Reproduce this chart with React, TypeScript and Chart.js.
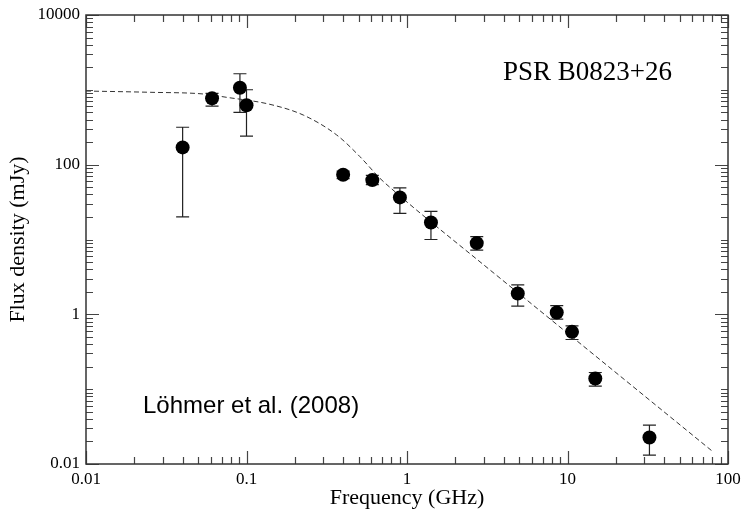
import React, { useEffect, useRef } from "react";
import { Chart, registerables } from "chart.js";

Chart.register(...registerables);

// Measured spectrum (GHz, mJy) with error bar limits
const FREQ = [0.040, 0.061, 0.091, 0.100, 0.40, 0.608, 0.903, 1.41, 2.72, 4.90, 8.57, 10.67, 14.9, 32.4];
const FLUX = [170, 770, 1067, 621, 73.3, 62.2, 36.5, 16.9, 8.95, 1.90, 1.06, 0.583, 0.139, 0.0226];
const FLUX_HI = [316, 898, 1641, 1002, 82, 72, 49.1, 23.8, 10.9, 2.48, 1.31, 0.70, 0.167, 0.033];
const FLUX_LO = [20.1, 607, 500, 241, 65, 54, 22.3, 10.0, 7.2, 1.29, 0.863, 0.461, 0.110, 0.0131];

// Dashed model curve
const FIT_FREQ = [0.01, 0.0251, 0.0538, 0.0753, 0.140, 0.226, 0.365, 0.509, 0.679, 0.842, 1.148, 3.0, 10.67, 80.9];
const FIT_FLUX = [964, 927, 880, 794, 640, 460, 249, 128, 65.6, 43.5, 24.7, 4.6, 0.50, 0.0145];

const X_TICKS = [0.01, 0.1, 1, 10, 100];
const Y_TICKS = [0.01, 1, 100, 10000];

const TITLE = "PSR B0823+26";
const SOURCE = "Löhmer et al. (2008)";
const X_TITLE = "Frequency (GHz)";
const Y_TITLE = "Flux density (mJy)";

const SERIF = "'Liberation Serif', 'Times New Roman', serif";
const SANS = "'Liberation Sans', Arial, sans-serif";

function isMajor(v: number, list: number[]) {
  return list.some((t) => Math.abs(Math.log10(t) - Math.log10(v)) < 1e-6);
}

const decorPlugin = {
  id: "decor",
  beforeDatasetsDraw(chart: any) {
    const { ctx, scales } = chart;
    const xs = scales.x;
    const ys = scales.y;
    const CAP = 6.5;
    ctx.save();
    ctx.strokeStyle = "#222";
    ctx.lineWidth = 1.2;
    FREQ.forEach((f, i) => {
      const px = xs.getPixelForValue(f);
      const hi = ys.getPixelForValue(FLUX_HI[i]);
      const lo = ys.getPixelForValue(FLUX_LO[i]);
      ctx.beginPath();
      ctx.moveTo(px, hi);
      ctx.lineTo(px, lo);
      ctx.moveTo(px - CAP, hi);
      ctx.lineTo(px + CAP, hi);
      ctx.moveTo(px - CAP, lo);
      ctx.lineTo(px + CAP, lo);
      ctx.stroke();
    });
    ctx.restore();
  },
  afterDraw(chart: any) {
    const { ctx, chartArea: a, scales } = chart;
    const xs = scales.x;
    const ys = scales.y;
    const MAJ = 13;
    const MIN = 7;
    ctx.save();
    // ticks
    ctx.strokeStyle = "#444";
    ctx.lineWidth = 1.2;
    ctx.beginPath();
    const xmin = Math.round(Math.log10(xs.min));
    const xmax = Math.round(Math.log10(xs.max));
    for (let d = xmin; d <= xmax; d++) {
      for (let m = 1; m <= 9; m++) {
        const v = m * Math.pow(10, d);
        if (v > xs.max * 1.0001) break;
        const px = Math.round(xs.getPixelForValue(v)) + 0.5;
        const len = m === 1 && isMajor(v, X_TICKS) ? MAJ : MIN;
        ctx.moveTo(px, a.bottom);
        ctx.lineTo(px, a.bottom - len);
        ctx.moveTo(px, a.top);
        ctx.lineTo(px, a.top + len);
      }
    }
    const ymin = Math.round(Math.log10(ys.min));
    const ymax = Math.round(Math.log10(ys.max));
    for (let d = ymin; d <= ymax; d++) {
      for (let m = 1; m <= 9; m++) {
        const v = m * Math.pow(10, d);
        if (v > ys.max * 1.0001) break;
        const py = Math.round(ys.getPixelForValue(v)) + 0.5;
        const len = m === 1 && isMajor(v, Y_TICKS) ? MAJ : MIN;
        ctx.moveTo(a.left, py);
        ctx.lineTo(a.left + len, py);
        ctx.moveTo(a.right, py);
        ctx.lineTo(a.right - len, py);
      }
    }
    ctx.stroke();
    // frame
    ctx.strokeStyle = "#333";
    ctx.lineWidth = 1.5;
    ctx.strokeRect(a.left, a.top, a.right - a.left, a.bottom - a.top);
    // annotations
    ctx.fillStyle = "#000";
    ctx.textBaseline = "alphabetic";
    ctx.textAlign = "left";
    ctx.font = `27px ${SERIF}`;
    ctx.fillText(TITLE, a.left + 417, a.top + 65);
    ctx.font = `24px ${SANS}`;
    ctx.fillText(SOURCE, a.left + 57, a.top + 398);
    ctx.restore();
  },
};

export default function App() {
  const ref = useRef<HTMLCanvasElement | null>(null);

  useEffect(() => {
    const canvas = ref.current;
    if (!canvas) return;
    const chart = new Chart(canvas, {
      type: "scatter",
      data: {
        datasets: [
          {
            type: "scatter",
            label: "data",
            data: FREQ.map((x, i) => ({ x, y: FLUX[i] })),
            pointRadius: 7,
            pointHoverRadius: 7,
            pointBackgroundColor: "#000",
            pointBorderColor: "#000",
            pointBorderWidth: 0,
          },
          {
            type: "line",
            label: "fit",
            data: FIT_FREQ.map((x, i) => ({ x, y: FIT_FLUX[i] })),
            showLine: true,
            pointRadius: 0,
            borderColor: "#333",
            borderWidth: 1,
            borderDash: [5, 3],
            cubicInterpolationMode: "monotone",
            fill: false,
          } as any,
        ],
      },
      options: {
        responsive: false,
        animation: false,
        devicePixelRatio: 1,
        layout: { padding: { left: 0, right: 14, top: 15, bottom: 0 } },
        plugins: {
          legend: { display: false },
          tooltip: { enabled: false },
        },
        scales: {
          x: {
            type: "logarithmic",
            min: 0.01,
            max: 100,
            grid: { display: false, drawTicks: false },
            border: { display: false },
            afterBuildTicks: (s: any) => {
              s.ticks = X_TICKS.map((v) => ({ value: v }));
            },
            afterFit: (s: any) => {
              s.height = 47;
              s.paddingLeft = 0;
              s.paddingRight = 0;
            },
            ticks: {
              autoSkip: false,
              maxRotation: 0,
              padding: 5,
              color: "#000",
              font: { family: SERIF, size: 17 },
              callback: (v: any) => String(v),
            },
            title: {
              display: true,
              text: X_TITLE,
              color: "#000",
              font: { family: SERIF, size: 22 },
              padding: { top: 0, bottom: 0 },
            },
          },
          y: {
            type: "logarithmic",
            min: 0.01,
            max: 10000,
            grid: { display: false, drawTicks: false },
            border: { display: false },
            afterBuildTicks: (s: any) => {
              s.ticks = Y_TICKS.map((v) => ({ value: v }));
            },
            afterFit: (s: any) => {
              s.width = 86;
              s.paddingTop = 0;
              s.paddingBottom = 0;
            },
            ticks: {
              autoSkip: false,
              padding: 6,
              color: "#000",
              font: { family: SERIF, size: 17 },
              callback: (v: any) => String(v),
            },
            title: {
              display: true,
              text: Y_TITLE,
              color: "#000",
              font: { family: SERIF, size: 22 },
              padding: { top: 5, bottom: 0 },
            },
          },
        },
      },
      plugins: [decorPlugin],
    });
    return () => chart.destroy();
  }, []);

  return (
    <div style={{ position: "absolute", left: 0, top: 0, width: 742, height: 511, background: "#fff" }}>
      <canvas ref={ref} width={742} height={511} style={{ display: "block" }} />
    </div>
  );
}
